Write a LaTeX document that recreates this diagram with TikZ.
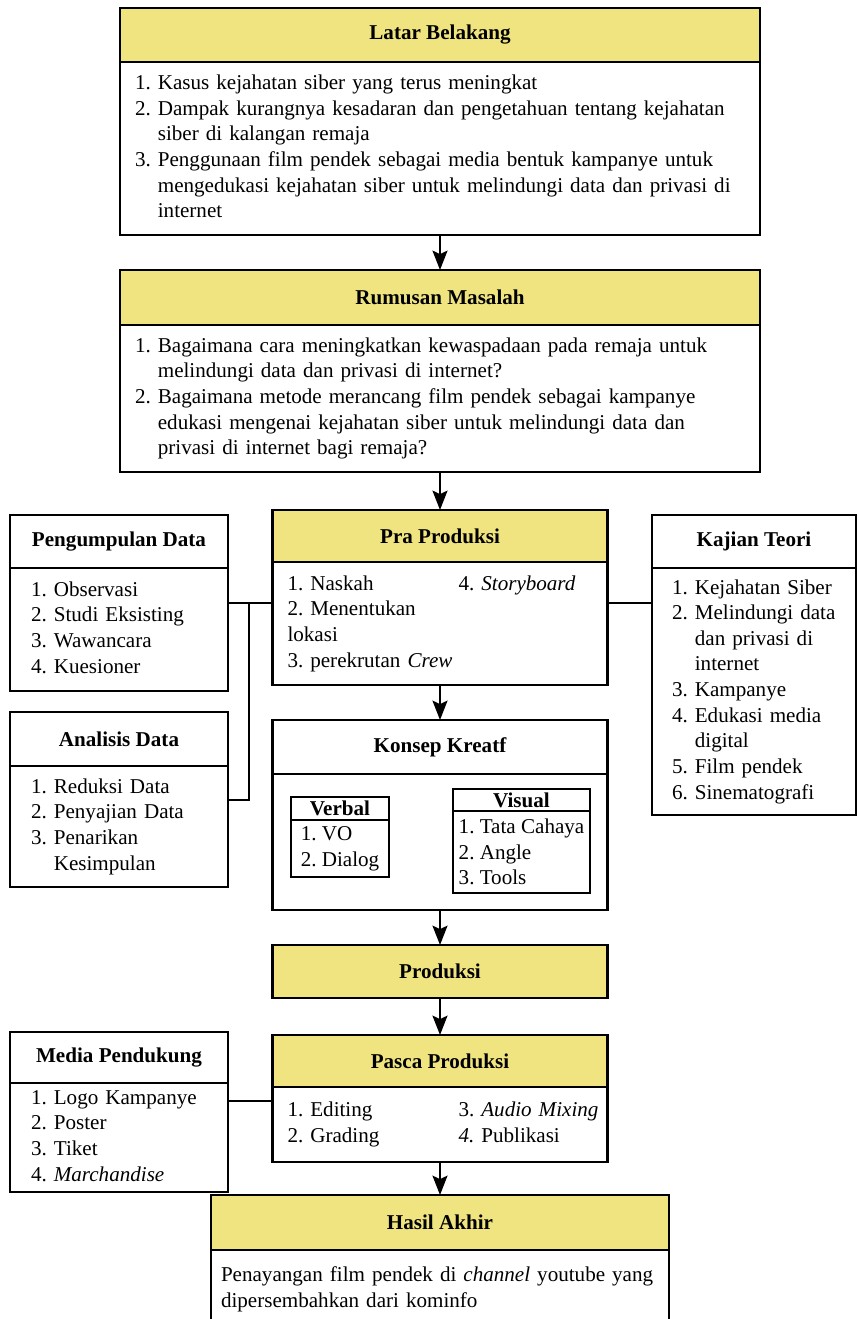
\documentclass[tikz,border=0pt]{standalone}
\usepackage{fontspec}
\setmainfont{Liberation Serif}
\usetikzlibrary{positioning,arrows.meta}
\definecolor{kuning}{RGB}{239,228,128}
\newcommand\hurufdasar{\fontsize{12}{14.6}\selectfont\frenchspacing}

\begin{document}
\begin{tikzpicture}[line width=1.4pt,>={Stealth[length=11pt,width=8.5pt,inset=2pt]},font=\hurufdasar,
judul/.style={draw,fill=kuning,anchor=north,outer sep=0pt,inner sep=0pt,font=\hurufdasar\bfseries},
judulp/.style={judul,fill=white},
isi/.style={draw,fill=white,outer sep=0pt,inner xsep=0.3cm,inner ysep=0pt,align=left},
kecil/.style={draw,fill=white,outer sep=0pt,inner sep=0pt,line width=1.1pt},
garis/.style={line width=1.1pt}]
\useasboundingbox (0,0) rectangle (17.16,-26.38);
% alur utama
\node[judul,minimum width=12.8cm,minimum height=1.08cm] (latar) at (8.8,-0.16) {Latar Belakang};
\node[isi,below=0pt of latar,text width=12.2cm,minimum height=3.46cm] (latarIsi) {\begin{tabular}{@{}l@{~}l@{}}
1.&Kasus kejahatan siber yang terus meningkat\\
2.&Dampak kurangnya kesadaran dan pengetahuan tentang kejahatan\\
&siber di kalangan remaja\\
3.&Penggunaan film pendek sebagai media bentuk kampanye untuk\\
&mengedukasi kejahatan siber untuk melindungi data dan privasi di\\
&internet
\end{tabular}};
\node[judul,below=0.7cm of latarIsi,minimum width=12.8cm,minimum height=1.1cm] (rumusan) {Rumusan Masalah};
\node[isi,below=0pt of rumusan,text width=12.2cm,minimum height=2.94cm] (rumusanIsi) {\begin{tabular}{@{}l@{~}l@{}}
1.&Bagaimana cara meningkatkan kewaspadaan pada remaja untuk\\
&melindungi data dan privasi di internet?\\
2.&Bagaimana metode merancang film pendek sebagai kampanye\\
&edukasi mengenai kejahatan siber untuk melindungi data dan\\
&privasi di internet bagi remaja?
\end{tabular}};
\node[judul,below=0.76cm of rumusanIsi,minimum width=6.7cm,minimum height=1.04cm] (pra) {Pra Produksi};
\node[isi,below=0pt of pra,text width=6.1cm,minimum height=2.46cm] (praIsi) {\begin{tabular}{@{}p{3.42cm}@{}l@{}}
1. Naskah&4. \textit{Storyboard}\\
2. Menentukan&\\
lokasi&\\
3. perekrutan \textit{Crew}&
\end{tabular}};
\node[judulp,below=0.7cm of praIsi,minimum width=6.7cm,minimum height=1.08cm] (konsep) {Konsep Kreatf};
\node[isi,below=0pt of konsep,minimum width=6.7cm,minimum height=2.72cm] (konsepIsi) {};
\node[judul,below=0.7cm of konsepIsi,minimum width=6.7cm,minimum height=1.06cm] (produksi) {Produksi};
\node[judul,below=0.74cm of produksi,minimum width=6.7cm,minimum height=1.04cm] (pasca) {Pasca Produksi};
\node[isi,below=0pt of pasca,text width=6.1cm,minimum height=1.5cm] (pascaIsi) {\begin{tabular}{@{}p{3.42cm}@{}l@{}}
1. Editing&3. \textit{Audio Mixing}\\
2. Grading&\textit{4.} Publikasi
\end{tabular}};
\node[judul,below=0.66cm of pascaIsi,minimum width=9.16cm,minimum height=1.1cm] (hasil) {Hasil Akhir};
\node[isi,inner xsep=0.2cm,below=0pt of hasil,text width=8.76cm,minimum height=1.56cm] (hasilIsi) {Penayangan film pendek di \textit{channel} youtube yang\\dipersembahkan dari kominfo};
% isi konsep kreatif
\node[kecil,anchor=north,minimum width=1.96cm,minimum height=0.46cm,font=\hurufdasar\bfseries] (verbal) at (6.8,-15.94) {Verbal};
\node[kecil,below=0pt of verbal,minimum width=1.96cm,minimum height=1.14cm,align=left] (verbalIsi) {1. VO\\2. Dialog};
\node[kecil,anchor=north,minimum width=2.74cm,minimum height=0.44cm,font=\hurufdasar\bfseries] (visual) at (10.43,-15.78) {Visual};
\node[kecil,below=0pt of visual,minimum width=2.74cm,minimum height=1.64cm,align=left] (visualIsi) {1. Tata Cahaya\\2. Angle\\3. Tools};
% kotak samping
\node[judulp,minimum width=4.36cm,minimum height=1.06cm] (kumpul) at (2.38,-10.3) {Pengumpulan Data};
\node[isi,inner xsep=0.42cm,below=0pt of kumpul,text width=3.52cm,minimum height=2.46cm] (kumpulIsi) {\begin{tabular}{@{}l@{~}l@{}}
1.&Observasi\\
2.&Studi Eksisting\\
3.&Wawancara\\
4.&Kuesioner
\end{tabular}};
\node[judulp,below=0.42cm of kumpulIsi,minimum width=4.36cm,minimum height=1.08cm] (analisis) {Analisis Data};
\node[isi,inner xsep=0.42cm,below=0pt of analisis,text width=3.52cm,minimum height=2.42cm] (analisisIsi) {\begin{tabular}{@{}l@{~}l@{}}
1.&Reduksi Data\\
2.&Penyajian Data\\
3.&Penarikan\\
&Kesimpulan
\end{tabular}};
\node[judulp,minimum width=4.08cm,minimum height=1.06cm] (kajian) at (15.08,-10.3) {Kajian Teori};
\node[isi,inner xsep=0.4cm,below=0pt of kajian,text width=3.28cm,minimum height=4.94cm] (kajianIsi) {\begin{tabular}{@{}l@{~}l@{}}
1.&Kejahatan Siber\\
2.&Melindungi data\\
&dan privasi di\\
&internet\\
3.&Kampanye\\
4.&Edukasi media\\
&digital\\
5.&Film pendek\\
6.&Sinematografi
\end{tabular}};
\node[judulp,minimum width=4.36cm,minimum height=1.02cm] (media) at (2.38,-20.64) {Media Pendukung};
\node[isi,inner xsep=0.42cm,below=0pt of media,text width=3.52cm,minimum height=2.18cm] (mediaIsi) {\begin{tabular}{@{}l@{~}l@{}}
1.&Logo Kampanye\\
2.&Poster\\
3.&Tiket\\
4.&\textit{Marchandise}
\end{tabular}};
% panah
\draw[->] (latarIsi) -- (rumusan);
\draw[->] (rumusanIsi) -- (pra);
\draw[->] (praIsi) -- (konsep);
\draw[->] (konsepIsi) -- (produksi);
\draw[->] (produksi) -- (pasca);
\draw[->] (pascaIsi) -- (hasil);
% garis penghubung
\coordinate (simpul) at (4.98,-12.06);
\coordinate (simpul2) at (4.98,-16.0);
\coordinate (simpul3) at (4.98,-22.02);
\draw[garis] (kumpulIsi.east |- simpul) -- (praIsi.west |- simpul);
\draw[garis] (simpul) -- (simpul2) -- (analisisIsi.east |- simpul2);
\draw[garis] (praIsi.east |- simpul) -- (kajianIsi.west |- simpul);
\draw[garis] (mediaIsi.east |- simpul3) -- (pascaIsi.west |- simpul3);
\end{tikzpicture}
\end{document}
